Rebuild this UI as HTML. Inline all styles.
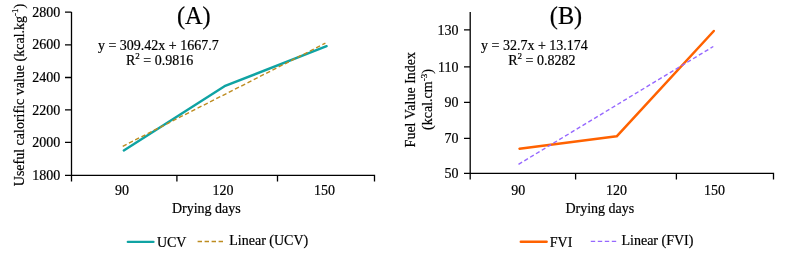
<!DOCTYPE html>
<html><head><meta charset="utf-8">
<style>
html,body{margin:0;padding:0;background:#fff;width:787px;height:257px;overflow:hidden}
svg{display:block}
text{font-family:"Liberation Serif","Times New Roman",serif;fill:#000;stroke:#000;stroke-width:0.2px}
.t{font-size:14px}
.ttl{font-size:24.3px}
</style></head><body>
<svg width="787" height="257" viewBox="0 0 787 257">
<g stroke="#000" stroke-width="1.3" fill="none">
 <!-- left chart axes -->
 <path d="M71.5 12V181.5M65 12.2H71.5M65 44.9H71.5M65 77.5H71.5M65 109.9H71.5M65 142.3H71.5M65 175.3H374.5V181.5M176.9 175.3V181.5M277.5 175.3V181.5"/>
 <!-- right chart axes -->
 <path d="M470.2 12V179.4M464 29.9H470.2M464 66.9H470.2M464 102.3H470.2M464 138.4H470.2M464 173.3H773.5V179.4M575.6 173.3V179.4M676.4 173.3V179.4"/>
</g>
<!-- data lines -->
<polyline points="123.8,150.4 224.5,86.2 326.6,46.2" fill="none" stroke="#0fa3a3" stroke-width="2.4" stroke-linejoin="round" stroke-linecap="round"/>
<line x1="122.7" y1="146.3" x2="325.4" y2="43.2" stroke="#bd8c20" stroke-width="1.4" stroke-dasharray="4.4 2.6"/>
<polyline points="519.5,148.7 616.7,136.3 713.8,31.0" fill="none" stroke="#ff6200" stroke-width="2.5" stroke-linejoin="round" stroke-linecap="round"/>
<line x1="518.5" y1="164.3" x2="713.3" y2="46.5" stroke="#9668ff" stroke-width="1.4" stroke-dasharray="4.2 2.6"/>

<!-- titles -->
<text class="ttl" x="193.8" y="24.45" text-anchor="middle">(A)</text>
<text class="ttl" x="566.0" y="24.45" text-anchor="middle">(B)</text>

<!-- equations -->
<text class="t" x="158.3" y="49.7" text-anchor="middle">y = 309.42x + 1667.7</text>
<text class="t" x="159.6" y="64.8" text-anchor="middle">R<tspan dy="-6" font-size="9px">2</tspan><tspan dy="6"> = 0.9816</tspan></text>
<text class="t" x="534.4" y="49.6" text-anchor="middle">y = 32.7x + 13.174</text>
<text class="t" x="541.8" y="64.7" text-anchor="middle">R<tspan dy="-6" font-size="9px">2</tspan><tspan dy="6"> = 0.8282</tspan></text>

<!-- left y tick labels -->
<g class="t" text-anchor="end">
 <text x="60.2" y="16.7">2800</text>
 <text x="60.2" y="49.3">2600</text>
 <text x="60.2" y="81.9">2400</text>
 <text x="60.2" y="114.5">2200</text>
 <text x="60.2" y="147.1">2000</text>
 <text x="60.2" y="179.7">1800</text>
</g>
<!-- right y tick labels -->
<g class="t" text-anchor="end">
 <text x="458.4" y="34.9">130</text>
 <text x="458.4" y="71.9">110</text>
 <text x="458.4" y="107.3">90</text>
 <text x="458.4" y="143.4">70</text>
 <text x="458.4" y="178.3">50</text>
</g>
<!-- x tick labels -->
<g class="t" text-anchor="middle">
 <text x="121.9" y="195.3">90</text>
 <text x="223.1" y="195.3">120</text>
 <text x="324.5" y="195.3">150</text>
 <text x="518.3" y="195.3">90</text>
 <text x="616.6" y="195.3">120</text>
 <text x="714.5" y="195.3">150</text>
</g>
<text class="t" x="206.3" y="213.1" text-anchor="middle">Drying days</text>
<text class="t" x="599.8" y="213" text-anchor="middle">Drying days</text>

<!-- y axis titles -->
<text class="t" transform="translate(23.9 95.0) rotate(-90)" text-anchor="middle">Useful calorific value (kcal.kg<tspan dy="-5.6" font-size="9px">-1</tspan><tspan dy="5.6">)</tspan></text>
<text class="t" transform="translate(414.9 99.7) rotate(-90)" text-anchor="middle">Fuel Value Index</text>
<text class="t" transform="translate(431.8 99.5) rotate(-90)" text-anchor="middle">(kcal.cm<tspan dy="-5" font-size="9px">-3</tspan><tspan dy="5">)</tspan></text>

<!-- legends -->
<line x1="127.8" y1="241.9" x2="153.5" y2="241.9" stroke="#0fa3a3" stroke-width="2.3" stroke-linecap="round"/>
<text class="t" x="156.9" y="246.5">UCV</text>
<line x1="197.6" y1="241.5" x2="223.1" y2="241.5" stroke="#bd8c20" stroke-width="1.4" stroke-dasharray="4.4 2.6"/>
<text class="t" x="229.3" y="245.1">Linear (UCV)</text>
<line x1="520.8" y1="241.7" x2="546.6" y2="241.7" stroke="#ff6200" stroke-width="2.5" stroke-linecap="round"/>
<text class="t" x="549.8" y="246.5">FVI</text>
<line x1="590.8" y1="241.4" x2="616.3" y2="241.4" stroke="#9668ff" stroke-width="1.4" stroke-dasharray="4.4 2.6"/>
<text class="t" x="621.5" y="245.1">Linear (FVI)</text>
</svg>
</body></html>
